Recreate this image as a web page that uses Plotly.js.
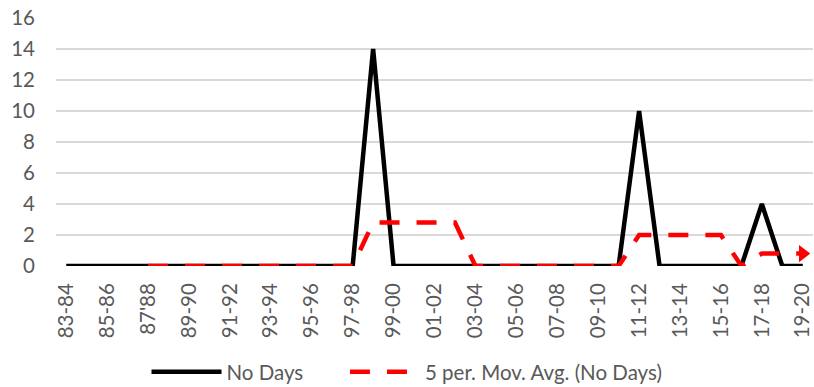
<!DOCTYPE html>
<html><head><meta charset="utf-8">
<script src="https://cdn.plot.ly/plotly-3.0.1.min.js"></script>
<style>html,body{margin:0;padding:0;background:#fff}#c{width:814px;height:387px}</style>
</head><body><div id="c"></div>
<script>
var categories = ["83-84","84-85","85-86","86-87","87'88","88-89","89-90","90-91","91-92","92-93","93-94","94-95","95-96","96-97","97-98","98-99","99-00","00-01","01-02","02-03","03-04","04-05","05-06","06-07","07-08","08-09","09-10","10-11","11-12","12-13","13-14","14-15","15-16","16-17","17-18","18-19","19-20"];
var noDays = [0,0,0,0,0,0,0,0,0,0,0,0,0,0,0,14,0,0,0,0,0,0,0,0,0,0,0,0,10,0,0,0,0,0,4,0,0];
var movAvg = [null,null,null,null,0,0,0,0,0,0,0,0,0,0,0,2.8,2.8,2.8,2.8,2.8,0,0,0,0,0,0,0,0,2,2,2,2,2,0,0.8,0.8,0.8];
var tickLabels = ["83-84","85-86","87'88","89-90","91-92","93-94","95-96","97-98","99-00","01-02","03-04","05-06","07-08","09-10","11-12","13-14","15-16","17-18","19-20"];
var seriesNames = ["No Days", "5 per. Mov. Avg. (No Days)"];
var tickVals = tickLabels.map(function(t){return categories.indexOf(t);});
var xs = categories.map(function(c,i){return i;});
var last = categories.length-1;
var pad = "\u00a0\u00a0\u00a0\u00a0\u00a0\u00a0\u00a0";

var font = {family:"Lato, 'Open Sans', sans-serif", size:20.5, color:"#595959"};
var traces = [
  {x:xs, y:noDays, type:"scatter", mode:"lines", name:seriesNames[0] + pad,
   line:{color:"#000000", width:4.5, shape:"linear"}},
  {x:xs, y:movAvg, type:"scatter", mode:"lines", name:seriesNames[1],
   line:{color:"#ff0000", width:4.5, dash:"20px,17px"}, connectgaps:false},
  {x:[xs[last]], y:[movAvg[last]], type:"scatter", mode:"markers", showlegend:false, hoverinfo:"skip",
   marker:{symbol:"triangle-right", size:15, color:"#ff0000", line:{width:0}}}
];
var layout = {
  width:814, height:387, paper_bgcolor:"#fff", plot_bgcolor:"#fff",
  margin:{l:56, r:1, t:18, b:121, autoexpand:false},
  font:font, showlegend:true,
  xaxis:{range:[-0.5,36.5], tickmode:"array", tickvals:tickVals, ticktext:tickLabels,
    tickangle:-90, showgrid:false, zeroline:false, showline:false, ticks:"",
    tickfont:font, ticklabelstandoff:12, automargin:false, fixedrange:true},
  yaxis:{range:[0,16], dtick:2, tick0:0, showgrid:true, gridcolor:"#d9d9d9", gridwidth:1.2,
    zeroline:false, showline:false, ticks:"", tickfont:font, ticklabelstandoff:20, automargin:false, fixedrange:true},
  legend:{orientation:"h", x:0.5, xanchor:"center", xref:"container", y:0.039, yanchor:"middle", yref:"container",
    font:font, itemwidth:70, traceorder:"normal", bgcolor:"rgba(0,0,0,0)"}
};
Plotly.newPlot("c", traces, layout, {displayModeBar:false, staticPlot:true});
</script></body></html>
